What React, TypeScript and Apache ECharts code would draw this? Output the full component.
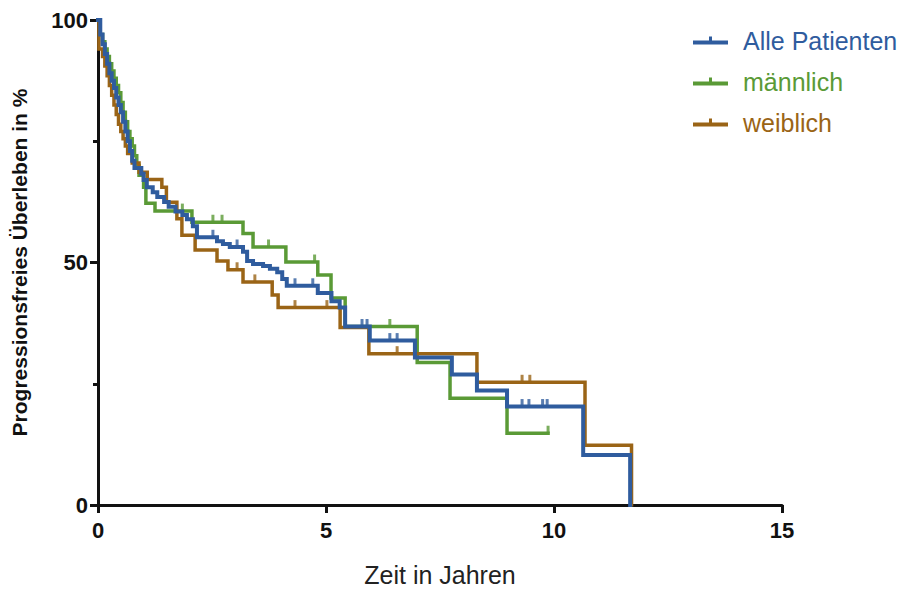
import React, { useEffect, useRef } from "react";
import * as echarts from "echarts";

// Kaplan-Meier step data (time in years, survival % after event)
const allTimes = [0, 0.05, 0.1, 0.15, 0.2, 0.25, 0.3, 0.35, 0.4, 0.45, 0.5, 0.55, 0.6, 0.65, 0.7, 0.75, 0.8, 0.95, 1.0, 1.07, 1.2, 1.3, 1.45, 1.55, 1.7, 1.85, 1.95, 2.08, 2.17, 2.61, 2.74, 2.89, 3.18, 3.27, 3.4, 3.62, 3.77, 3.93, 4.04, 4.14, 4.82, 5.12, 5.3, 5.42, 5.96, 6.95, 7.76, 8.31, 8.97, 10.64, 11.67];
const allSurv = [100, 97, 95, 93, 91, 89, 87.5, 86, 84, 82.5, 81, 79, 77, 75, 73, 71, 69.5, 68.3, 67, 65.5, 64.5, 63.5, 62.5, 61.5, 60.5, 59.8, 58.9, 57.5, 55.2, 54.4, 53.8, 53.2, 52.2, 50.3, 49.7, 49.3, 48.7, 48.0, 46.6, 45.2, 43.7, 42.0, 40.7, 36.8, 33.9, 30.4, 26.9, 23.6, 20.3, 10.3, 0];
const allCensored = [2.52, 3.05, 4.32, 4.71, 5.79, 5.9, 6.4, 6.56, 9.3, 9.45, 9.75, 9.85];

const maleTimes = [0, 0.05, 0.1, 0.15, 0.2, 0.25, 0.3, 0.35, 0.4, 0.45, 0.5, 0.55, 0.6, 0.65, 0.7, 0.75, 0.8, 0.85, 0.9, 1.0, 1.05, 1.25, 2.06, 3.18, 3.4, 4.12, 4.82, 5.11, 5.42, 7.0, 7.72, 8.97];
const maleSurv = [100, 97, 95.5, 94, 92.5, 91, 89.5, 88, 86.5, 85, 83, 81, 79, 77, 75.5, 74, 72, 70, 68, 65.5, 62.2, 60.6, 58.3, 56.0, 53.2, 50.1, 47.4, 42.7, 36.8, 29.4, 22.0, 14.8];
const maleEnd = 9.87;
const maleCensored = [1.85, 2.52, 2.72, 3.74, 4.75, 6.4, 9.87];

const femaleTimes = [0, 0.02, 0.1, 0.15, 0.2, 0.25, 0.3, 0.35, 0.4, 0.45, 0.5, 0.55, 0.6, 0.65, 0.75, 0.9, 1.08, 1.4, 1.5, 1.73, 1.84, 2.13, 2.61, 2.85, 3.18, 3.82, 3.95, 5.31, 5.94, 8.31, 10.68, 11.7];
const femaleSurv = [100, 94, 92.5, 90.5, 88.5, 86.5, 84.5, 82.5, 80.5, 78.5, 77, 75.5, 74, 72.5, 70.5, 68.6, 67.1, 65.5, 62.4, 59.0, 55.6, 52.6, 50.3, 48.5, 46.0, 43.3, 40.7, 36.6, 31.2, 25.3, 12.3, 0];
const femaleCensored = [3.05, 3.44, 4.32, 5.02, 6.56, 9.3, 9.47];

const xTicks = [0, 5, 10, 15];
const yTicks = [0, 50, 100];

const seriesNames = ["Alle Patienten", "männlich", "weiblich"];
const colors = ["#2f5c9e", "#5a9a36", "#9a6416"];

function stepLine(times: number[], surv: number[], end?: number) {
  const pts: number[][] = [[times[0], surv[0]]];
  for (let i = 1; i < times.length; i++) {
    pts.push([times[i], surv[i - 1]]);
    pts.push([times[i], surv[i]]);
  }
  if (end !== undefined) pts.push([end, surv[surv.length - 1]]);
  return pts;
}

function survAt(times: number[], surv: number[], t: number) {
  let v = surv[0];
  for (let i = 0; i < times.length; i++) if (times[i] <= t) v = surv[i];
  return v;
}

export default function App() {
  const ref = useRef<HTMLDivElement>(null);
  useEffect(() => {
    if (!ref.current) return;
    const chart = echarts.init(ref.current, null, { renderer: "svg" });
    const groups = [
      { times: allTimes, surv: allSurv, cens: allCensored, end: undefined as number | undefined, width: 4, z: 5 },
      { times: maleTimes, surv: maleSurv, cens: maleCensored, end: maleEnd, width: 3.5, z: 3 },
      { times: femaleTimes, surv: femaleSurv, cens: femaleCensored, end: undefined, width: 3.5, z: 4 },
    ];
    const series: any[] = [];
    groups.forEach((g, i) => {
      series.push({
        name: seriesNames[i],
        type: "line",
        data: stepLine(g.times, g.surv, g.end),
        showSymbol: false,
        symbol: "none",
        lineStyle: { color: colors[i], width: g.width, cap: "square", join: "miter" },
        itemStyle: { color: colors[i] },
        z: g.z,
        silent: true,
      });
      series.push({
        name: seriesNames[i] + " zensiert",
        type: "scatter",
        data: g.cens.map((t) => [t, survAt(g.times, g.surv, t)]),
        symbol: "rect",
        symbolSize: [3, 7],
        symbolOffset: [0, -4],
        itemStyle: { color: colors[i] },
        z: g.z,
        silent: true,
      });
    });
    const iconPath = "path://M0,5L35,5L35,9L0,9Z M16,1L19,1L19,5L16,5Z";
    chart.setOption({
      animation: false,
      backgroundColor: "#ffffff",
      textStyle: { fontFamily: "Liberation Sans, Arial, sans-serif" },
      grid: { left: 98, right: 123, top: 20, bottom: 83, containLabel: false },
      legend: {
        orient: "vertical",
        left: 688,
        top: 23,
        itemWidth: 35,
        itemHeight: 9,
        itemGap: 16,
        data: seriesNames.map((n, i) => ({
          name: n,
          icon: iconPath,
          itemStyle: { color: colors[i] },
          textStyle: { color: colors[i] },
        })),
        textStyle: { fontSize: 25, padding: [0, 0, 0, 10], fontFamily: "Liberation Sans, Arial, sans-serif" },
      },
      xAxis: {
        type: "value",
        min: 0,
        max: 15,
        interval: 5,
        name: "Zeit in Jahren",
        nameLocation: "middle",
        nameGap: 57,
        nameTextStyle: { fontSize: 25, color: "#222" },
        axisLine: { show: true, lineStyle: { color: "#111", width: 3 } },
        axisTick: { show: true, inside: false, length: 8, lineStyle: { color: "#111", width: 3 } },
        axisLabel: { fontSize: 22, fontWeight: "bold", color: "#111", margin: 14, formatter: (v: number) => (xTicks.includes(v) ? String(v) : "") },
        splitLine: { show: false },
      },
      yAxis: {
        type: "value",
        min: 0,
        max: 100,
        interval: 50,
        name: "Progressionsfreies Überleben in %",
        nameLocation: "middle",
        nameGap: 68,
        nameTextStyle: { fontSize: 21, fontWeight: "bold", color: "#111" },
        axisLine: { show: true, lineStyle: { color: "#111", width: 3 } },
        axisTick: { show: true, inside: false, length: 8, lineStyle: { color: "#111", width: 3 } },
        minorTick: { show: true, splitNumber: 2, length: 5, lineStyle: { color: "#111", width: 3 } },
        axisLabel: { fontSize: 22, fontWeight: "bold", color: "#111", margin: 10, formatter: (v: number) => (yTicks.includes(v) ? String(v) : "") },
        splitLine: { show: false },
        minorSplitLine: { show: false },
      },
      series,
    });
    return () => chart.dispose();
  }, []);
  return <div ref={ref} style={{ position: "absolute", left: 0, top: 0, width: 905, height: 592 }} />;
}
